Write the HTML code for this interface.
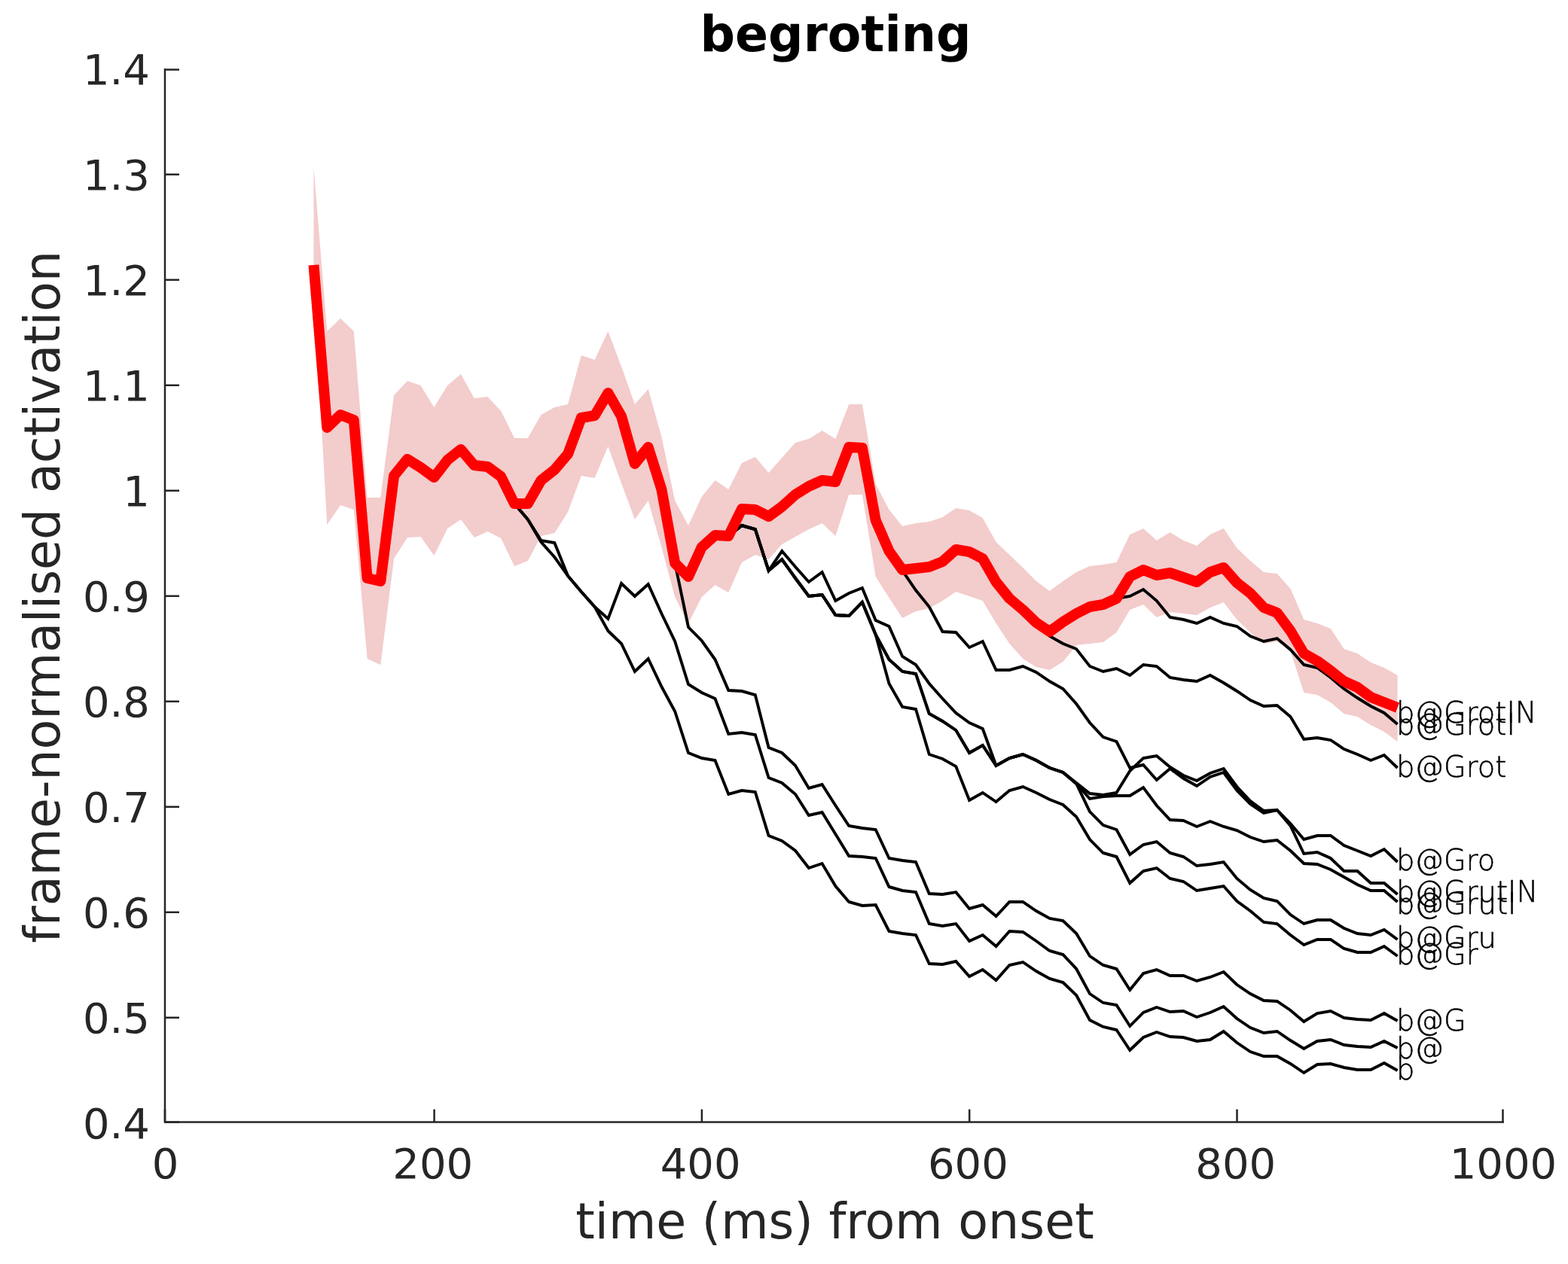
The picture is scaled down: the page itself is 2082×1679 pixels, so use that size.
<!DOCTYPE html><html><head><meta charset="utf-8"><title>begroting</title><style>html,body{margin:0;padding:0;background:#fff;overflow:hidden}svg{display:block}</style></head><body><svg xmlns="http://www.w3.org/2000/svg" width="2082" height="1679" viewBox="0 0 2082 1679">
<rect width="100%" height="100%" fill="#fff"/>
<polygon points="416.5,222.0 434.3,440.0 452.0,423.0 469.8,440.0 487.6,661.0 505.3,661.0 523.1,525.0 540.9,506.0 558.6,512.0 576.4,541.0 594.2,512.0 611.9,497.0 629.7,529.0 647.5,527.0 665.2,546.0 683.0,582.0 700.8,582.0 718.5,551.0 736.3,541.0 754.1,537.0 771.8,472.0 789.6,478.0 807.4,440.0 825.1,487.0 842.9,537.0 860.7,517.0 878.4,580.0 896.2,665.0 914.0,698.0 931.7,660.0 949.5,638.0 967.3,650.0 985.0,615.0 1002.8,607.0 1020.6,628.0 1038.3,608.0 1056.1,588.0 1073.9,583.0 1091.6,572.0 1109.4,583.0 1127.2,537.0 1144.9,537.0 1162.7,643.0 1180.5,677.0 1198.2,699.0 1216.0,695.0 1233.8,693.0 1251.5,687.0 1269.3,675.0 1287.1,678.0 1304.8,688.0 1322.6,720.0 1340.4,737.0 1358.2,754.0 1375.9,772.0 1393.7,785.0 1411.5,772.0 1429.2,760.0 1447.0,752.0 1464.8,750.0 1482.5,747.0 1500.3,710.0 1518.1,702.0 1535.8,718.0 1553.6,707.0 1571.4,718.0 1589.1,725.0 1606.9,710.0 1624.7,702.0 1642.4,728.0 1660.2,745.0 1678.0,760.0 1695.7,762.0 1713.5,782.0 1731.3,823.0 1749.0,828.0 1766.8,835.0 1784.6,862.0 1802.3,868.0 1820.1,880.0 1837.9,887.0 1855.6,897.0 1855.6,985.0 1837.9,972.0 1820.1,963.0 1802.3,952.0 1784.6,948.0 1766.8,933.0 1749.0,923.0 1731.3,920.0 1713.5,865.0 1695.7,852.0 1678.0,855.0 1660.2,840.0 1642.4,823.0 1624.7,800.0 1606.9,807.0 1589.1,817.0 1571.4,815.0 1553.6,813.0 1535.8,820.0 1518.1,803.0 1500.3,810.0 1482.5,840.0 1464.8,853.0 1447.0,855.0 1429.2,857.0 1411.5,879.0 1393.7,890.0 1375.9,886.0 1358.2,875.0 1340.4,855.0 1322.6,828.0 1304.8,798.0 1287.1,792.0 1269.3,786.0 1251.5,798.0 1233.8,808.0 1216.0,812.0 1198.2,821.0 1180.5,794.0 1162.7,766.0 1144.9,657.0 1127.2,657.0 1109.4,712.0 1091.6,695.0 1073.9,703.0 1056.1,713.0 1038.3,723.0 1020.6,743.0 1002.8,737.0 985.0,747.0 967.3,787.0 949.5,777.0 931.7,793.0 914.0,828.0 896.2,793.0 878.4,727.0 860.7,665.0 842.9,690.0 825.1,642.0 807.4,593.0 789.6,635.0 771.8,632.0 754.1,680.0 736.3,708.0 718.5,712.0 700.8,745.0 683.0,752.0 665.2,715.0 647.5,706.0 629.7,714.0 611.9,690.0 594.2,702.0 576.4,738.0 558.6,713.0 540.9,714.0 523.1,742.0 505.3,883.0 487.6,875.0 469.8,677.0 452.0,671.0 434.3,697.0 416.5,380.0" fill="#f3cccc" stroke="none"/>
<g fill="none" stroke="#000" stroke-width="3.9" stroke-linejoin="miter" stroke-miterlimit="3"><polyline points="683.0,669.0 700.8,690.0 718.5,720.0 736.3,740.0 754.1,765.0 771.8,786.0 789.6,806.0 807.4,838.0 825.1,855.0 842.9,892.0 860.7,875.0 878.4,912.0 896.2,945.0 914.0,1000.0 931.7,1007.0 949.5,1010.0 967.3,1055.0 985.0,1050.0 1002.8,1052.0 1020.6,1110.0 1038.3,1117.0 1056.1,1130.0 1073.9,1153.0 1091.6,1147.0 1109.4,1177.0 1127.2,1198.0 1144.9,1203.0 1162.7,1202.0 1180.5,1237.0 1198.2,1240.0 1216.0,1242.0 1233.8,1280.0 1251.5,1281.0 1269.3,1277.0 1287.1,1297.0 1304.8,1288.0 1322.6,1302.0 1340.4,1282.0 1358.2,1278.0 1375.9,1290.0 1393.7,1300.0 1411.5,1305.0 1429.2,1322.0 1447.0,1355.0 1464.8,1364.0 1482.5,1368.0 1500.3,1395.0 1518.1,1378.0 1535.8,1371.0 1553.6,1377.0 1571.4,1378.0 1589.1,1383.0 1606.9,1381.0 1624.7,1370.0 1642.4,1385.0 1660.2,1397.0 1678.0,1403.0 1695.7,1403.0 1713.5,1413.0 1731.3,1425.0 1749.0,1414.0 1766.8,1413.0 1784.6,1418.0 1802.3,1421.0 1820.1,1421.0 1837.9,1412.0 1855.6,1422.0"/><polyline points="683.0,669.0 700.8,690.0 718.5,718.0 736.3,721.0 754.1,765.0 771.8,786.0 789.6,806.0 807.4,822.0 825.1,775.0 842.9,792.0 860.7,776.0 878.4,815.0 896.2,852.0 914.0,909.0 931.7,920.0 949.5,928.0 967.3,975.0 985.0,973.0 1002.8,976.0 1020.6,1033.0 1038.3,1040.0 1056.1,1055.0 1073.9,1083.0 1091.6,1079.0 1109.4,1108.0 1127.2,1137.0 1144.9,1138.0 1162.7,1140.0 1180.5,1178.0 1198.2,1183.0 1216.0,1185.0 1233.8,1227.0 1251.5,1230.0 1269.3,1227.0 1287.1,1250.0 1304.8,1242.0 1322.6,1257.0 1340.4,1237.0 1358.2,1238.0 1375.9,1250.0 1393.7,1263.0 1411.5,1268.0 1429.2,1287.0 1447.0,1320.0 1464.8,1332.0 1482.5,1335.0 1500.3,1363.0 1518.1,1345.0 1535.8,1338.0 1553.6,1344.0 1571.4,1343.0 1589.1,1351.0 1606.9,1345.0 1624.7,1337.0 1642.4,1353.0 1660.2,1365.0 1678.0,1372.0 1695.7,1370.0 1713.5,1382.0 1731.3,1393.0 1749.0,1383.0 1766.8,1381.0 1784.6,1388.0 1802.3,1390.0 1820.1,1391.0 1837.9,1383.0 1855.6,1392.0"/><polyline points="896.2,748.0 914.0,833.0 931.7,851.0 949.5,876.0 967.3,917.0 985.0,918.0 1002.8,923.0 1020.6,993.0 1038.3,1000.0 1056.1,1017.0 1073.9,1047.0 1091.6,1042.0 1109.4,1070.0 1127.2,1097.0 1144.9,1100.0 1162.7,1102.0 1180.5,1140.0 1198.2,1143.0 1216.0,1145.0 1233.8,1187.0 1251.5,1188.0 1269.3,1185.0 1287.1,1207.0 1304.8,1202.0 1322.6,1217.0 1340.4,1198.0 1358.2,1198.0 1375.9,1210.0 1393.7,1220.0 1411.5,1223.0 1429.2,1240.0 1447.0,1270.0 1464.8,1282.0 1482.5,1287.0 1500.3,1315.0 1518.1,1293.0 1535.8,1288.0 1553.6,1296.0 1571.4,1296.0 1589.1,1303.0 1606.9,1298.0 1624.7,1291.0 1642.4,1308.0 1660.2,1320.0 1678.0,1329.0 1695.7,1330.0 1713.5,1342.0 1731.3,1357.0 1749.0,1346.0 1766.8,1343.0 1784.6,1352.0 1802.3,1354.0 1820.1,1355.0 1837.9,1346.0 1855.6,1356.0"/><polyline points="967.3,712.0 985.0,698.0 1002.8,703.0 1020.6,758.0 1038.3,743.0 1056.1,768.0 1073.9,792.0 1091.6,790.0 1109.4,817.0 1127.2,818.0 1144.9,800.0 1162.7,843.0 1180.5,908.0 1198.2,939.0 1216.0,942.0 1233.8,1002.0 1251.5,1008.0 1269.3,1018.0 1287.1,1063.0 1304.8,1053.0 1322.6,1065.0 1340.4,1050.0 1358.2,1045.0 1375.9,1053.0 1393.7,1062.0 1411.5,1069.0 1429.2,1085.0 1447.0,1115.0 1464.8,1133.0 1482.5,1138.0 1500.3,1173.0 1518.1,1157.0 1535.8,1153.0 1553.6,1167.0 1571.4,1171.0 1589.1,1183.0 1606.9,1180.0 1624.7,1177.0 1642.4,1197.0 1660.2,1210.0 1678.0,1225.0 1695.7,1227.0 1713.5,1242.0 1731.3,1255.0 1749.0,1248.0 1766.8,1248.0 1784.6,1260.0 1802.3,1265.0 1820.1,1265.0 1837.9,1257.0 1855.6,1270.0"/><polyline points="967.3,712.0 985.0,698.0 1002.8,703.0 1020.6,758.0 1038.3,743.0 1056.1,768.0 1073.9,792.0 1091.6,790.0 1109.4,817.0 1127.2,818.0 1144.9,800.0 1162.7,843.0 1180.5,876.0 1198.2,892.0 1216.0,895.0 1233.8,948.0 1251.5,958.0 1269.3,970.0 1287.1,1000.0 1304.8,990.0 1322.6,1017.0 1340.4,1007.0 1358.2,1002.0 1375.9,1010.0 1393.7,1020.0 1411.5,1026.0 1429.2,1041.0 1447.0,1078.0 1464.8,1096.0 1482.5,1102.0 1500.3,1135.0 1518.1,1122.0 1535.8,1118.0 1553.6,1133.0 1571.4,1138.0 1589.1,1150.0 1606.9,1148.0 1624.7,1145.0 1642.4,1167.0 1660.2,1182.0 1678.0,1193.0 1695.7,1197.0 1713.5,1215.0 1731.3,1227.0 1749.0,1222.0 1766.8,1222.0 1784.6,1233.0 1802.3,1240.0 1820.1,1242.0 1837.9,1235.0 1855.6,1248.0"/><polyline points="967.3,712.0 985.0,698.0 1002.8,703.0 1020.6,758.0 1038.3,743.0 1056.1,768.0 1073.9,792.0 1091.6,790.0 1109.4,817.0 1127.2,818.0 1144.9,800.0 1162.7,843.0 1180.5,876.0 1198.2,892.0 1216.0,895.0 1233.8,948.0 1251.5,958.0 1269.3,970.0 1287.1,1000.0 1304.8,990.0 1322.6,1017.0 1340.4,1007.0 1358.2,1002.0 1375.9,1010.0 1393.7,1020.0 1411.5,1026.0 1429.2,1041.0 1447.0,1061.0 1464.8,1058.0 1482.5,1057.0 1500.3,1057.0 1518.1,1046.0 1535.8,1070.0 1553.6,1089.0 1571.4,1090.0 1589.1,1098.0 1606.9,1091.0 1624.7,1098.0 1642.4,1103.0 1660.2,1112.0 1678.0,1118.0 1695.7,1116.0 1713.5,1130.0 1731.3,1147.0 1749.0,1148.0 1766.8,1155.0 1784.6,1165.0 1802.3,1175.0 1820.1,1183.0 1837.9,1183.0 1855.6,1198.0"/><polyline points="967.3,712.0 985.0,698.0 1002.8,703.0 1020.6,758.0 1038.3,732.0 1056.1,753.0 1073.9,773.0 1091.6,760.0 1109.4,798.0 1127.2,788.0 1144.9,781.0 1162.7,824.0 1180.5,832.0 1198.2,872.0 1216.0,883.0 1233.8,908.0 1251.5,928.0 1269.3,947.0 1287.1,960.0 1304.8,968.0 1322.6,1017.0 1340.4,1007.0 1358.2,1002.0 1375.9,1010.0 1393.7,1020.0 1411.5,1026.0 1429.2,1040.0 1447.0,1054.0 1464.8,1056.0 1482.5,1053.0 1500.3,1024.0 1518.1,1007.0 1535.8,1004.0 1553.6,1019.0 1571.4,1030.0 1589.1,1037.0 1606.9,1027.0 1624.7,1021.0 1642.4,1045.0 1660.2,1064.0 1678.0,1077.0 1695.7,1076.0 1713.5,1097.0 1731.3,1134.0 1749.0,1132.0 1766.8,1140.0 1784.6,1157.0 1802.3,1157.0 1820.1,1173.0 1837.9,1173.0 1855.6,1188.0"/><polyline points="1198.2,758.0 1216.0,784.0 1233.8,806.0 1251.5,839.0 1269.3,840.0 1287.1,860.0 1304.8,852.0 1322.6,890.0 1340.4,890.0 1358.2,885.0 1375.9,893.0 1393.7,905.0 1411.5,915.0 1429.2,935.0 1447.0,960.0 1464.8,979.0 1482.5,985.0 1500.3,1020.0 1518.1,1016.0 1535.8,1036.0 1553.6,1021.0 1571.4,1034.0 1589.1,1044.0 1606.9,1032.0 1624.7,1026.0 1642.4,1050.0 1660.2,1068.0 1678.0,1080.0 1695.7,1076.0 1713.5,1094.0 1731.3,1115.0 1749.0,1110.0 1766.8,1110.0 1784.6,1123.0 1802.3,1130.0 1820.1,1137.0 1837.9,1128.0 1855.6,1145.0"/><polyline points="1375.9,827.0 1393.7,845.0 1411.5,855.0 1429.2,862.0 1447.0,885.0 1464.8,892.0 1482.5,888.0 1500.3,897.0 1518.1,883.0 1535.8,885.0 1553.6,900.0 1571.4,903.0 1589.1,905.0 1606.9,897.0 1624.7,907.0 1642.4,918.0 1660.2,930.0 1678.0,938.0 1695.7,937.0 1713.5,952.0 1731.3,982.0 1749.0,980.0 1766.8,983.0 1784.6,995.0 1802.3,1002.0 1820.1,1010.0 1837.9,1003.0 1855.6,1020.0"/><polyline points="1464.8,803.0 1482.5,795.0 1500.3,792.0 1518.1,783.0 1535.8,798.0 1553.6,820.0 1571.4,823.0 1589.1,828.0 1606.9,820.0 1624.7,828.0 1642.4,832.0 1660.2,845.0 1678.0,852.0 1695.7,848.0 1713.5,863.0 1731.3,883.0 1749.0,887.0 1766.8,900.0 1784.6,915.0 1802.3,927.0 1820.1,938.0 1837.9,947.0 1855.6,962.0"/></g>
<polyline points="416.5,352.0 434.3,568.0 452.0,551.0 469.8,558.0 487.6,768.0 505.3,772.0 523.1,632.0 540.9,610.0 558.6,621.0 576.4,634.0 594.2,611.0 611.9,597.0 629.7,618.0 647.5,620.0 665.2,633.0 683.0,669.0 700.8,669.0 718.5,638.0 736.3,624.0 754.1,603.0 771.8,555.0 789.6,552.0 807.4,522.0 825.1,553.0 842.9,616.0 860.7,594.0 878.4,650.0 896.2,748.0 914.0,766.0 931.7,727.0 949.5,711.0 967.3,712.0 985.0,676.0 1002.8,677.0 1020.6,686.0 1038.3,673.0 1056.1,657.0 1073.9,646.0 1091.6,638.0 1109.4,640.0 1127.2,594.0 1144.9,595.0 1162.7,691.0 1180.5,732.0 1198.2,757.0 1216.0,755.0 1233.8,753.0 1251.5,746.0 1269.3,730.0 1287.1,733.0 1304.8,742.0 1322.6,773.0 1340.4,795.0 1358.2,810.0 1375.9,827.0 1393.7,839.0 1411.5,826.0 1429.2,815.0 1447.0,806.0 1464.8,803.0 1482.5,795.0 1500.3,766.0 1518.1,757.0 1535.8,764.0 1553.6,761.0 1571.4,767.0 1589.1,773.0 1606.9,760.0 1624.7,754.0 1642.4,774.0 1660.2,788.0 1678.0,807.0 1695.7,814.0 1713.5,838.0 1731.3,868.0 1749.0,878.0 1766.8,891.0 1784.6,905.0 1802.3,913.0 1820.1,926.0 1837.9,933.0 1855.6,940.0" fill="none" stroke="#ff0000" stroke-width="14" stroke-linejoin="round"/>
<g font-family="DejaVu Sans, Liberation Sans, sans-serif" font-size="38.5" font-weight="200" fill="#000" stroke="#000" stroke-width="0.5"><text x="1854" y="960">b@GrotIN</text><text x="1854" y="975.5">b@GrotI</text><text x="1854" y="1032">b@Grot</text><text x="1854" y="1156.3">b@Gro</text><text x="1854" y="1198">b@GrutIN</text><text x="1854" y="1213.6">b@GrutI</text><text x="1854" y="1259.4">b@Gru</text><text x="1854" y="1281.3">b@Gr</text><text x="1854" y="1369">b@G</text><text x="1854" y="1406">b@</text><text x="1854" y="1434">b</text></g>
<path d="M219 91.0V1490.5H1997" fill="none" stroke="#262626" stroke-width="2.5"/>
<path d="M219 1490.5h19 M219 1351.7h19 M219 1211.7h19 M219 1071.7h19 M219 931.7h19 M219 791.7h19 M219 651.7h19 M219 511.7h19 M219 371.7h19 M219 231.7h19 M219 92.5h19 M219.0 1490.5v-17 M576.6 1490.5v-17 M931.9 1490.5v-17 M1287.2 1490.5v-17 M1642.5 1490.5v-17 M1995.5 1490.5v-17" fill="none" stroke="#262626" stroke-width="2.5"/>
<g font-family="DejaVu Sans, Liberation Sans, sans-serif" font-size="56" fill="#262626"><text x="199" y="1511.7" text-anchor="end">0.4</text><text x="199" y="1371.7" text-anchor="end">0.5</text><text x="199" y="1231.7" text-anchor="end">0.6</text><text x="199" y="1091.7" text-anchor="end">0.7</text><text x="199" y="951.7" text-anchor="end">0.8</text><text x="199" y="811.7" text-anchor="end">0.9</text><text x="199" y="671.7" text-anchor="end">1</text><text x="199" y="531.7" text-anchor="end">1.1</text><text x="199" y="391.7" text-anchor="end">1.2</text><text x="199" y="251.7" text-anchor="end">1.3</text><text x="199" y="111.7" text-anchor="end">1.4</text><text x="219.5" y="1565" text-anchor="middle">0</text><text x="574.8" y="1565" text-anchor="middle">200</text><text x="930.1" y="1565" text-anchor="middle">400</text><text x="1285.4" y="1565" text-anchor="middle">600</text><text x="1640.7" y="1565" text-anchor="middle">800</text><text x="1996.0" y="1565" text-anchor="middle">1000</text></g>
<text x="1108.5" y="1645" text-anchor="middle" font-family="DejaVu Sans, Liberation Sans, sans-serif" font-size="65" fill="#262626">time (ms) from onset</text>
<text transform="translate(78.5 793) rotate(-90)" text-anchor="middle" font-family="DejaVu Sans, Liberation Sans, sans-serif" font-size="65" fill="#262626">frame-normalised activation</text>
<text x="1109.5" y="68" text-anchor="middle" font-family="DejaVu Sans, Liberation Sans, sans-serif" font-weight="bold" font-size="65" fill="#000">begroting</text>
</svg></body></html>
